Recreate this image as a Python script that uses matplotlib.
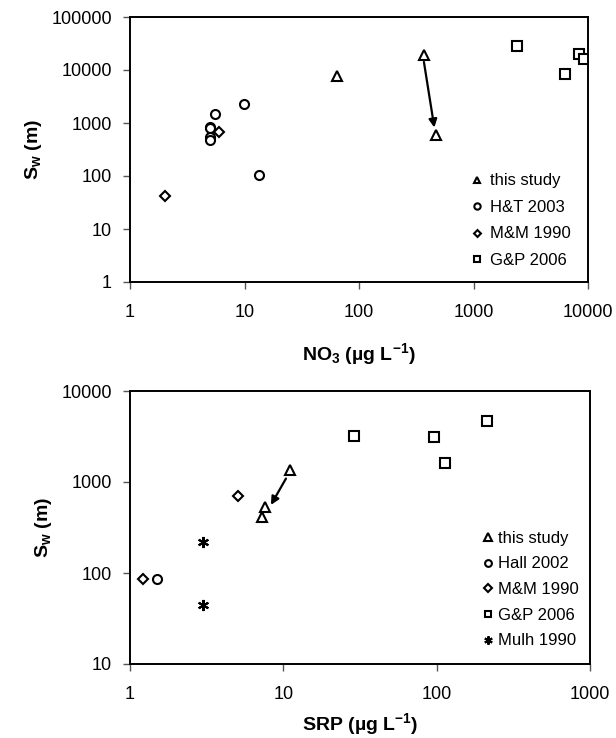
import matplotlib
matplotlib.use("Agg")
import matplotlib.pyplot as plt
from matplotlib import ticker

plt.rcParams['font.family'] = ['Liberation Sans', 'DejaVu Sans']
plt.rcParams['mathtext.fontset'] = 'custom'
plt.rcParams['mathtext.rm'] = 'Liberation Sans:bold'
plt.rcParams['mathtext.bf'] = 'Liberation Sans:bold'
plt.rcParams['mathtext.default'] = 'bf'

# ---- Top panel data (NO3) ----
no3_this_x = [63.7, 369, 468]
no3_this_y = [7700, 19450, 603]
no3_ht_x = [5.52, 9.93, 13.4, 5.0, 5.0, 5.0, 5.0]
no3_ht_y = [1500, 2316, 103, 850, 790, 555, 485]
no3_mm_x = [6.03, 2.04]
no3_mm_y = [676, 42]
no3_gp_x = [2388, 6270, 8270, 9240]
no3_gp_y = [28400, 8530, 20300, 15900]
no3_arrow_from = (369, 14160)
no3_arrow_to = (455, 820)
top_xticks = [1, 10, 100, 1000, 10000]
top_yticks = [1, 10, 100, 1000, 10000, 100000]

# ---- Bottom panel data (SRP) ----
srp_this_x = [11.06, 7.57, 7.23]
srp_this_y = [1347, 525, 414]
srp_hall_x = [1.49]
srp_hall_y = [87]
srp_mm_x = [1.21, 5.04]
srp_mm_y = [86, 698]
srp_gp_x = [29.1, 95.4, 114, 212]
srp_gp_y = [3236, 3126, 1607, 4645]
srp_mulh_x = [2.98, 2.98]
srp_mulh_y = [220, 44.5]
srp_arrow_from = (10.4, 1091)
srp_arrow_to = (8.3, 560)
bot_xticks = [1, 10, 100, 1000]
bot_yticks = [10, 100, 1000, 10000]

fig = plt.figure(figsize=(6.16, 7.38), dpi=100)
W, H = 616, 738
ax1 = fig.add_axes([130 / W, 1 - 282 / H, (588 - 130) / W, (282 - 17) / H])
ax2 = fig.add_axes([130 / W, 1 - 664 / H, (590 - 130) / W, (664 - 391) / H])

mk = dict(linestyle='none', markerfacecolor='white', markeredgecolor='black',
          markeredgewidth=1.5, color='black')


def style(ax, xt, yt, xlim, ylim, xlabel, xlpad):
    ax.set_xscale('log')
    ax.set_yscale('log')
    ax.set_xlim(*xlim)
    ax.set_ylim(*ylim)
    ax.xaxis.set_major_locator(ticker.FixedLocator(xt))
    ax.yaxis.set_major_locator(ticker.FixedLocator(yt))
    ax.xaxis.set_minor_locator(ticker.NullLocator())
    ax.yaxis.set_minor_locator(ticker.NullLocator())
    fmt = ticker.FuncFormatter(lambda v, _: f'{v:.0f}')
    ax.xaxis.set_major_formatter(fmt)
    ax.yaxis.set_major_formatter(fmt)
    ax.tick_params(direction='out', length=5, width=1, labelsize=13, pad=8,
                   top=False, right=False, color='#555555')
    ax.tick_params(axis='x', pad=11)
    for s in ax.spines.values():
        s.set_linewidth(1.4)
    ax.set_xlabel(xlabel, fontsize=14, fontweight='bold', labelpad=xlpad)
    ax.set_ylabel(r'S$_{\mathregular{w}}$ (m)', fontsize=14, fontweight='bold', labelpad=5)


# Top
ax1.plot(no3_this_x, no3_this_y, marker='^', markersize=7, label='this study', **mk)
ax1.plot(no3_ht_x, no3_ht_y, marker='o', markersize=6.5, label='H&T 2003', **mk)
ax1.plot(no3_mm_x, no3_mm_y, marker='D', markersize=5, label='M&M 1990', **mk)
ax1.plot(no3_gp_x, no3_gp_y, marker='s', markersize=6.5, label='G&P 2006', **mk)
ax1.annotate('', xy=no3_arrow_to, xytext=no3_arrow_from,
             arrowprops=dict(arrowstyle='-|>', color='black', lw=1.6,
                             mutation_scale=12, shrinkA=0, shrinkB=0))
style(ax1, top_xticks, top_yticks, (1, 10000), (1, 100000),
      r'NO$_{\mathregular{3}}$ (µg L$^{\mathregular{-1}}$)', 14)
ax1.legend(loc='lower left', bbox_to_anchor=(0.74, 0.053), frameon=False, fontsize=12,
           handletextpad=0.28, markerscale=0.7, borderaxespad=0, borderpad=0,
           labelspacing=0.69, handlelength=1.0)

# Bottom
ax2.plot(srp_this_x, srp_this_y, marker='^', markersize=7, label='this study', **mk)
ax2.plot(srp_hall_x, srp_hall_y, marker='o', markersize=6.5, label='Hall 2002', **mk)
ax2.plot(srp_mm_x, srp_mm_y, marker='D', markersize=5, label='M&M 1990', **mk)
ax2.plot(srp_gp_x, srp_gp_y, marker='s', markersize=6.5, label='G&P 2006', **mk)
ax2.plot(srp_mulh_x, srp_mulh_y, marker=(6, 2, 0), markersize=8, label='Mulh 1990', **mk)
ax2.annotate('', xy=srp_arrow_to, xytext=srp_arrow_from,
             arrowprops=dict(arrowstyle='-|>', color='black', lw=1.6,
                             mutation_scale=12, shrinkA=0, shrinkB=0))
style(ax2, bot_xticks, bot_yticks, (1, 1000), (10, 10000),
      r'SRP (µg L$^{\mathregular{-1}}$)', 6)
ax2.legend(loc='lower left', bbox_to_anchor=(0.76, 0.057), frameon=False, fontsize=12,
           handletextpad=0.1, markerscale=0.75, borderaxespad=0, borderpad=0,
           labelspacing=0.64, handlelength=1.0)

fig.savefig('out.png', dpi=100)
